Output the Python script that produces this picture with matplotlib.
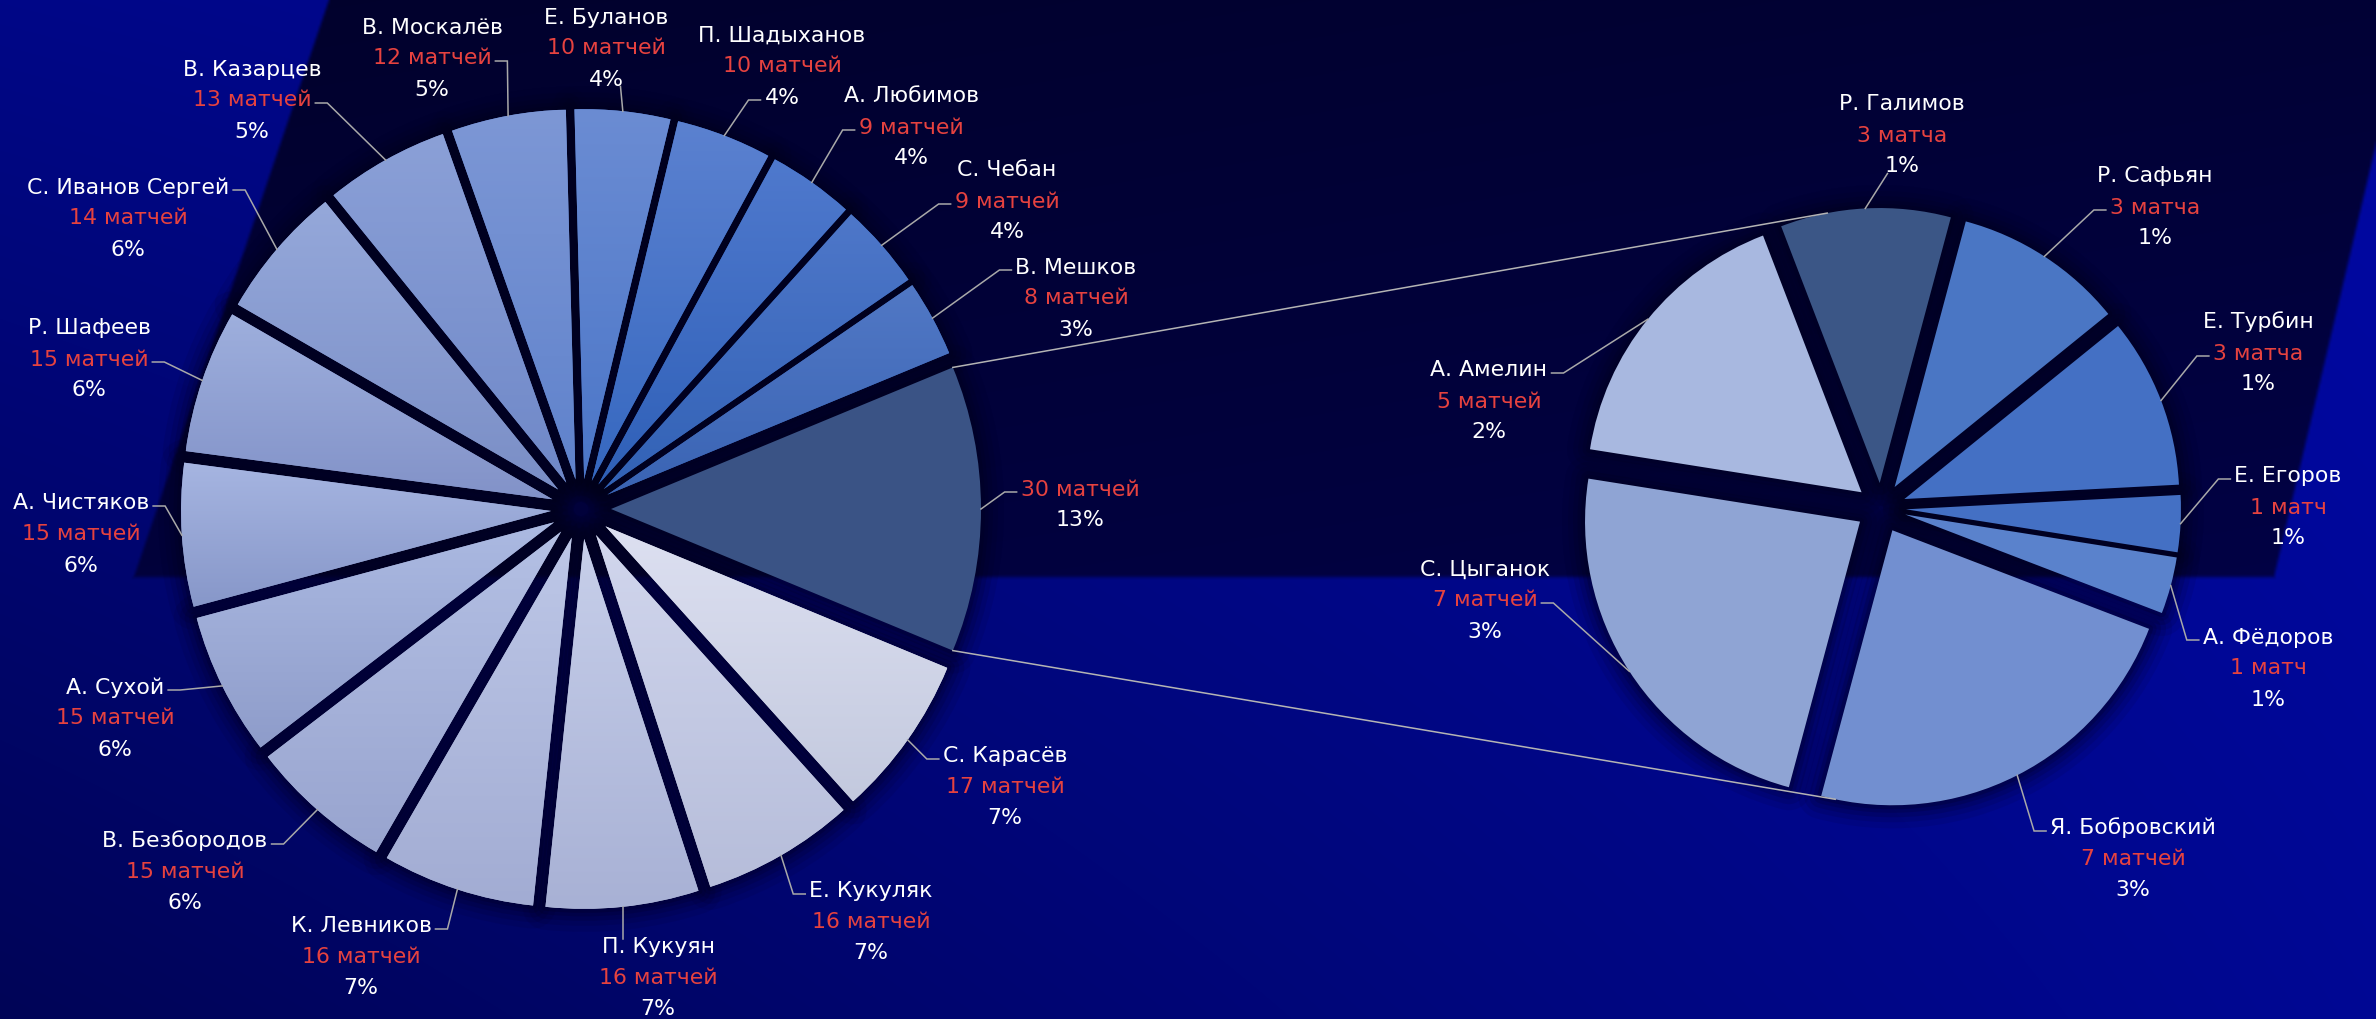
import numpy as np
import matplotlib
matplotlib.use("Agg")
import matplotlib.pyplot as plt
from matplotlib.patches import Wedge
from matplotlib.colors import to_rgb

# ---------------- data ----------------
main_names = ["С. Карасёв", "Е. Кукуляк", "П. Кукуян", "К. Левников", "В. Безбородов",
              "А. Сухой", "А. Чистяков", "Р. Шафеев", "С. Иванов Сергей", "В. Казарцев",
              "В. Москалёв", "Е. Буланов", "П. Шадыханов", "А. Любимов", "С. Чебан", "В. Мешков"]
main_values = [17, 16, 16, 16, 15, 15, 15, 15, 14, 13, 12, 10, 10, 9, 9, 8]
main_pcts = ["7%", "7%", "7%", "7%", "6%", "6%", "6%", "6%", "6%", "5%", "5%",
             "4%", "4%", "4%", "4%", "3%"]
other_pct = "13%"

sec_names = ["Р. Галимов", "Р. Сафьян", "Е. Турбин", "Е. Егоров", "А. Фёдоров",
             "Я. Бобровский", "С. Цыганок", "А. Амелин"]
sec_values = [3, 3, 3, 1, 1, 7, 7, 5]
sec_pcts = ["1%", "1%", "1%", "1%", "1%", "3%", "3%", "2%"]

# ---------------- style / layout ----------------
W, H = 2376, 1020
plt.rcParams["font.family"] = ["DejaVu Sans"]
FS = 15.8
LH = 31
WHITE = "#ffffff"
RED = "#e6423f"
LEAD = "#a9a9a9"
SH = "#00001a"

main_grad = [("#3a5385", "#3a5385"),
             ("#dde0f1", "#c3c9de"), ("#d1d6ed", "#b6bdda"), ("#c7cfea", "#a8b1d5"),
             ("#bdc7e7", "#a2acd3"), ("#b4c0e4", "#98a4cf"), ("#acbae2", "#8e9cca"),
             ("#a6b5e1", "#8797c9"), ("#9eafdd", "#8292c8"), ("#95a8da", "#7a8ec6"),
             ("#8ba0d7", "#6f88c8"), ("#7d97d5", "#5f82cc"), ("#6b8cd3", "#4b76c8"),
             ("#5b81d0", "#3668c0"), ("#4f79cd", "#2f60b8"), ("#4e77c9", "#3262b6"),
             ("#5178c5", "#3a64b4")]
sec_colors = ["#3b5686", "#4a76c4", "#4470c4", "#4470c4", "#5a82cc", "#728fd0", "#8fa4d4", "#a8b8e0"]

# label anchor (x, y of middle line, top-down pixels) and leader attachment
main_label_pos = [(1080, 488), (1005, 786), (871, 921), (658, 977), (361, 956), (185, 871),
                  (115, 717), (81, 533), (89, 358), (128, 217), (252, 99), (432, 57),
                  (606, 47), (782, 65), (911, 126), (1007, 200), (1076, 297)]
main_attach = [("L", 0), ("L", 0), ("L", 0), ("T", 0), ("R", 0), ("R", 0), ("R", 0), ("R", 0),
               ("R", 1), ("R", 0), ("R", 1), ("R", 1), ("B", 2), ("L", 2), ("L", 1), ("L", 1),
               ("L", 0)]
sec_label_pos = [(1902, 134), (2155, 206), (2258, 352), (2288, 506), (2268, 667),
                 (2133, 858), (1485, 599), (1489, 400)]
sec_attach = [("B", 2), ("L", 1), ("L", 1), ("L", 0), ("L", 0), ("L", 0), ("R", 1), ("R", 0)]

C1, R1, D1 = (581, H - 510), 370, 30
C2, R2, D2 = (1881, H - 509), 275, 25


def matches(n):
    if n % 10 == 1 and n % 100 != 11:
        return f"{n} матч"
    if n % 10 in (2, 3, 4) and n % 100 not in (12, 13, 14):
        return f"{n} матча"
    return f"{n} матчей"


fig = plt.figure(figsize=(W / 100, H / 100), dpi=100)
fig.patch.set_facecolor("#000040")
ax = fig.add_axes([0, 0, 1, 1])

# ---------------- background ----------------
yy, xx = np.mgrid[0:H:2, 0:W:2].astype(float)
u, v = xx / W, yy / H
b_out = (0.53 * (1 - u) * (1 - v) + 0.64 * u * (1 - v) + 0.34 * (1 - u) * v + 0.58 * u * v)
out = np.stack([np.zeros_like(b_out), 0.05 * b_out, b_out], axis=-1)
b_in = 0.17 + 0.06 * (yy / 577) + 0.04 * u
inn = np.stack([0.005 + 0 * b_in, 0.005 + 0 * b_in, b_in], axis=-1)
left_b = 328 - 195 * (yy / 577)
right_b = np.where(yy < 140, W + 50, 2273 + 103 * (577 - yy) / 437)
d = np.minimum.reduce([xx - left_b, right_b - xx, 577 - yy])
alpha = np.clip(d / 4 + 0.5, 0, 1)[..., None]
bg = alpha * inn + (1 - alpha) * out
ax.imshow(bg, extent=(0, W, 0, H), origin="upper", interpolation="bilinear",
          aspect="auto", zorder=0)


def draw_pie(values, center, radius, expl, startangle, colors):
    wedges, _ = ax.pie(values, center=center, radius=radius, startangle=startangle,
                       counterclock=False, colors=colors, frame=True,
                       wedgeprops=dict(linewidth=0, zorder=2))
    for w in wedges:
        thm = np.deg2rad((w.theta1 + w.theta2) / 2)
        w.set_center((center[0] + expl * np.cos(thm), center[1] + expl * np.sin(thm)))
    for w in wedges:
        for lw, a in [(46, .08), (34, .10), (24, .13), (15, .16), (8, .2)]:
            ax.add_patch(Wedge(w.center, w.r, w.theta1, w.theta2, facecolor=SH,
                               edgecolor=SH, linewidth=lw * 0.72, alpha=a, zorder=1,
                               joinstyle="round"))
    return wedges


other = sum(sec_values)
left_vals = [other] + main_values
w1 = draw_pie(left_vals, C1, R1, D1, 22.5, [c[1] for c in main_grad])
w2 = draw_pie(sec_values, C2, R2, D2, 111, sec_colors)

for w, (ct, cb) in zip(w1, main_grad):
    if ct == cb:
        continue
    ext = w.get_path().get_extents()
    g = np.linspace(0, 1, 128)[:, None, None]
    img = (1 - g) * np.array(to_rgb(ct)) + g * np.array(to_rgb(cb))
    im = ax.imshow(img, extent=(ext.x0, ext.x1, ext.y0, ext.y1), origin="upper",
                   aspect="auto", interpolation="bilinear", zorder=2.1)
    im.set_clip_path(w)

ax.set_xlim(0, W)
ax.set_ylim(0, H)
ax.set_aspect("auto")
ax.axis("off")


def arc_point(w, ang=None):
    if ang is None:
        ang = (w.theta1 + w.theta2) / 2
    t = np.deg2rad(ang)
    return w.center[0] + w.r * np.cos(t), w.center[1] + w.r * np.sin(t)


renderer = fig.canvas.get_renderer()
inv = ax.transData.inverted()


def label(w, lines, pos, attach, first_offset):
    x, ymid = pos
    texts = []
    for k, (s, col) in enumerate(lines):
        ytd = ymid + (k + first_offset) * LH
        t = ax.text(x, H - (ytd + 7.5), s, ha="center", va="baseline", color=col,
                    fontsize=FS, zorder=5)
        texts.append((t, ytd))
    side, idx = attach
    t, ytd = texts[idx]
    bb = inv.transform(t.get_window_extent(renderer).get_points())
    (x0, y0), (x1, y1) = bb
    px, py = arc_point(w)
    if side == "L":
        ex, ey = x0 - 4, H - (ytd + 5)
        pts = [(px, py), (ex - 12, ey), (ex, ey)]
    elif side == "R":
        ex, ey = x1 + 4, H - (ytd + 5)
        pts = [(px, py), (ex + 12, ey), (ex, ey)]
    elif side == "T":
        pts = [(px, py), (np.clip(px, x0 + 3, x1 - 3), y1 - 2)]
    else:
        pts = [(px, py), (np.clip(px, x0 + 3, x1 - 3), y0 + 2)]
    ax.plot([p[0] for p in pts], [p[1] for p in pts], color=LEAD, lw=1.1, zorder=4,
            solid_joinstyle="miter")


# main pie labels
label(w1[0], [(matches(other), RED), (other_pct, WHITE)], main_label_pos[0], main_attach[0], 0)
for i, (nm, val, pc) in enumerate(zip(main_names, main_values, main_pcts)):
    label(w1[i + 1], [(nm, WHITE), (matches(val), RED), (pc, WHITE)],
          main_label_pos[i + 1], main_attach[i + 1], -1)

for i, (nm, val, pc) in enumerate(zip(sec_names, sec_values, sec_pcts)):
    label(w2[i], [(nm, WHITE), (matches(val), RED), (pc, WHITE)],
          sec_label_pos[i], sec_attach[i], -1)

# connector lines between the pies
wo = w1[0]
up1 = arc_point(wo, wo.theta2)
lo1 = arc_point(wo, wo.theta1)
gal = w2[0]
bob = w2[sec_names.index("Я. Бобровский")]
up2 = arc_point(gal, gal.theta2 - 10)
lo2 = arc_point(bob, bob.theta1 + 3)
ax.plot([up1[0], up2[0]], [up1[1], up2[1]], color="#b4b4b4", lw=1.1, zorder=4)
ax.plot([lo1[0], lo2[0]], [lo1[1], lo2[1]], color="#b4b4b4", lw=1.1, zorder=4)

fig.savefig("out.png", dpi=100, facecolor=fig.get_facecolor())
